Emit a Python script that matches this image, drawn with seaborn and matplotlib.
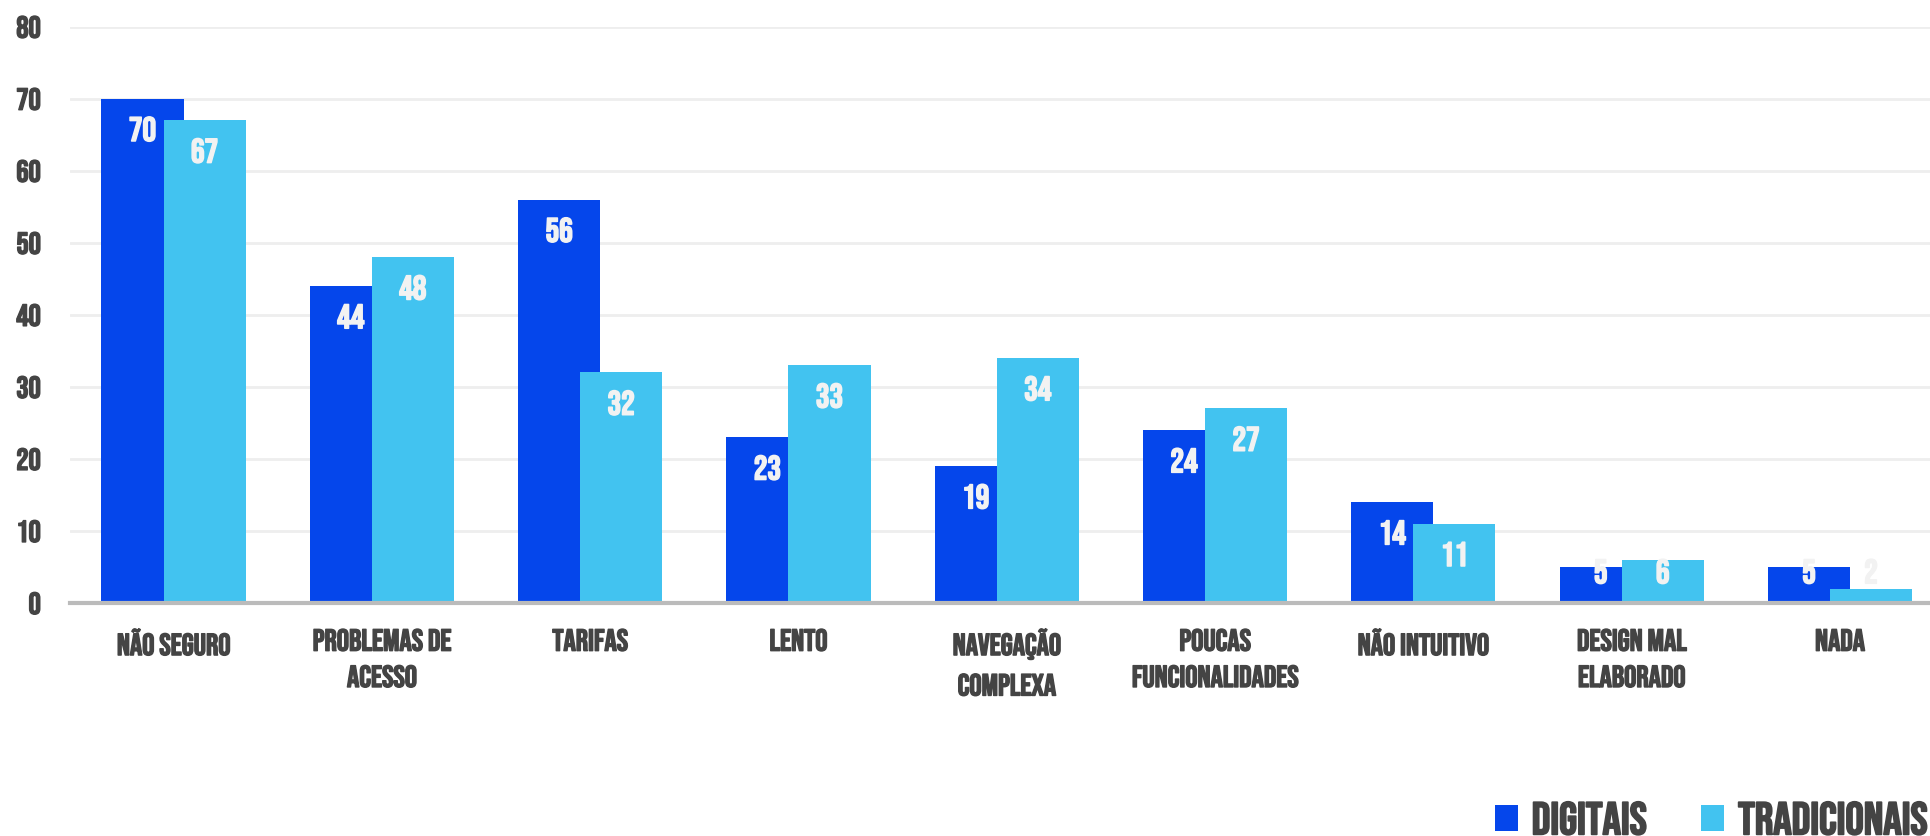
import numpy as np
import pandas as pd
import matplotlib
matplotlib.use("Agg")
import matplotlib.pyplot as plt
import matplotlib.patheffects as pe
from matplotlib.patches import Patch
import seaborn as sns

categories = ["NÃO SEGURO", "PROBLEMAS DE\nACESSO", "TARIFAS", "LENTO",
              "NAVEGAÇÃO\nCOMPLEXA", "POUCAS\nFUNCIONALIDADES", "NÃO INTUITIVO",
              "DESIGN MAL\nELABORADO", "NADA"]
digitais = [70, 44, 56, 23, 19, 24, 14, 5, 5]
tradicionais = [67, 48, 32, 33, 34, 27, 11, 6, 2]
series_names = ["DIGITAIS", "TRADICIONAIS"]
yticks = [0, 10, 20, 30, 40, 50, 60, 70, 80]

BLUE = "#0546EB"
LIGHT = "#42C3F0"
TEXT = "#444444"
LABEL = "#F2F2F2"


def bold(color, w=1.0):
    # Bebas Neue only ships a regular weight here, so thicken it a little
    return [pe.withStroke(linewidth=w, foreground=color)]


sns.set_style("white")
plt.rcParams["font.family"] = ["Bebas Neue", "Liberation Sans Narrow", "DejaVu Sans"]

fig = plt.figure(figsize=(19.31, 8.37), dpi=100)
ax = fig.add_axes([70 / 1931, 1 - 604 / 837, 1 - 70 / 1931, (604 - 27.7) / 837])

pos = np.arange(len(categories))
shift = 0.149
width = 0.394

df = pd.DataFrame({"pos": pos, "d": digitais, "t": tradicionais})
sns.barplot(x=df["pos"] - shift, y=df["d"], native_scale=True, width=width,
            color=BLUE, saturation=1, ax=ax, zorder=2, linewidth=0)
sns.barplot(x=df["pos"] + shift, y=df["t"], native_scale=True, width=width,
            color=LIGHT, saturation=1, ax=ax, zorder=3, linewidth=0)

# value labels inside the top of each bar
for xs, vals in [(pos - shift, digitais), (pos + shift, tradicionais)]:
    for x, v in zip(xs, vals):
        ax.text(x, max(v - 4.2, 4.4), str(v), ha="center", va="center",
                color=LABEL, fontsize=24.5, zorder=5, path_effects=bold(LABEL, 1.1))

ax.set_xlim(-0.497, 8.437)
ax.set_ylim(0, 80)
ax.set_yticks(yticks)
ax.set_yticklabels([str(t) for t in yticks], fontsize=22, color=TEXT)
ax.set_xticks(pos)
ax.set_xticklabels(categories, fontsize=22, color=TEXT, linespacing=1.65)
for t in ax.get_xticklabels() + ax.get_yticklabels():
    t.set_path_effects(bold(TEXT, 1.0))
ax.tick_params(axis="x", length=0, pad=18.5)
ax.tick_params(axis="y", length=0, pad=21)
ax.set_xlabel("")
ax.set_ylabel("")

ax.yaxis.grid(True, color="#EEEEEE", linewidth=2, zorder=0)
ax.set_axisbelow(True)
for s in ["top", "right", "left"]:
    ax.spines[s].set_visible(False)
ax.spines["bottom"].set_color("#BBBBBB")
ax.spines["bottom"].set_linewidth(3)
ax.spines["bottom"].set_zorder(6)

handles = [Patch(facecolor=BLUE, edgecolor="none"), Patch(facecolor=LIGHT, edgecolor="none")]
leg = fig.legend(handles, series_names, loc="lower right", bbox_to_anchor=(0.998, 0.002),
                 ncol=2, frameon=False, prop={"size": 33},
                 labelcolor=TEXT, handlelength=0.5, handleheight=0.5, handletextpad=0.3,
                 columnspacing=1.2, borderpad=0, borderaxespad=0)
for t in leg.get_texts():
    t.set_path_effects(bold(TEXT, 1.3))

fig.savefig("out.png", dpi=100)
